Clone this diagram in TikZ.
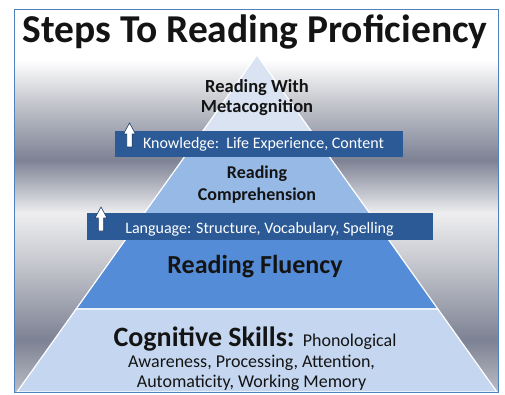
\documentclass[tikz,border=0pt]{standalone}
\usepackage{fontspec}
\setmainfont{Carlito}
\usetikzlibrary{calc}
\definecolor{frameBlue}{RGB}{79,129,189}
\definecolor{bandBlue}{RGB}{44,90,150}
\definecolor{arrowEdge}{RGB}{30,60,105}
\definecolor{tierTop}{RGB}{218,227,242}
\definecolor{tierComp}{RGB}{150,185,230}
\definecolor{tierFlu}{RGB}{85,140,215}
\definecolor{tierCog}{RGB}{197,215,240}
\definecolor{steelDark}{RGB}{125,130,148}
\definecolor{steelMid}{RGB}{200,202,208}
\definecolor{steelLight}{RGB}{238,238,240}
\definecolor{steelBot}{RGB}{185,188,196}
\definecolor{textDark}{RGB}{20,20,20}

\begin{document}
\begin{tikzpicture}[x=1pt,y=1pt,
  band/.style={fill=bandBlue,draw=none,inner sep=0pt},
  label/.style={anchor=base,text=textDark,inner sep=0pt,font=\bfseries},
  bandtext/.style={anchor=base,text=white,inner sep=0pt}]

\useasboundingbox (0,0) rectangle (505,394);
\fill[white] (0,0) rectangle (505,394);

% Metallic backdrop
\foreach \ya/\ca/\yb/\cb in {384/white/334/white, 334/white/294/steelMid,
    294/steelMid/234/steelDark, 234/steelDark/181/steelLight,
    181/steelLight/134/steelMid, 134/steelMid/54/steelDark, 54/steelDark/2/steelBot}
  \shade[top color=\ca,bottom color=\cb] (14,\ya) rectangle (498,\yb);

% Pyramid tiers
\coordinate (apex) at (257,339);
\coordinate (bl) at (17,2);
\coordinate (br) at (497,2);
\foreach \ta/\tb/\col in {0/0.2819/tierTop, 0.2819/0.5134/tierComp,
    0.5134/0.7537/tierFlu, 0.7537/1/tierCog}
  \filldraw[fill=\col,draw=white,line width=1.2pt,line join=round]
    ($(apex)!\ta!(bl)$) -- ($(apex)!\tb!(bl)$) -- ($(apex)!\tb!(br)$) -- ($(apex)!\ta!(br)$) -- cycle;

% Bands across the pyramid
\node[band,minimum width=288pt,minimum height=26pt] (knowband) at (259,250) {};
\node[band,minimum width=346pt,minimum height=27pt] (langband) at (260,167.5) {};

% Up arrows
\foreach \cx/\tip in {129.5/271, 101/187}
  \filldraw[fill=white,draw=arrowEdge,line width=0.6pt]
    (\cx,\tip) -- ++(-6,-11) -- ++(3.3,0) -- ++(0,-13) -- ++(5.4,0) -- ++(0,13) -- ++(3.3,0) -- cycle;

% Texts
\node[label,font=\fontsize{39.5}{42}\selectfont\bfseries] (title) at (255,351) {Steps To Reading Proficiency};
\node[label,font=\fontsize{18.5}{21}\selectfont\bfseries] (meta1) at (257,301) {Reading With};
\node[label,font=\fontsize{18.5}{21}\selectfont\bfseries] (meta2) at (257,281) {Metacognition};
\node[bandtext,font=\fontsize{16}{18}\selectfont] (knowtext) at (263.5,245) {Knowledge:\ \ Life Experience, Content};
\node[label,font=\fontsize{18}{20}\selectfont\bfseries] (comp1) at (257,216) {Reading};
\node[label,font=\fontsize{18}{20}\selectfont\bfseries] (comp2) at (257,194) {Comprehension};
\node[bandtext,font=\fontsize{16}{18}\selectfont] (langtext) at (259.5,161) {Language: Structure, Vocabulary, Spelling};
\node[label,font=\fontsize{26}{28}\selectfont\bfseries] (fluency) at (255,121) {Reading Fluency};
\node[label,font=\fontsize{18}{20}\selectfont\mdseries] (cog1) at (255,48) {{\fontsize{28}{30}\selectfont\bfseries Cognitive Skills:}\ \ Phonological};
\node[label,font=\fontsize{18}{20}\selectfont\mdseries] (cog2) at (251.5,27) {Awareness, Processing, Attention,};
\node[label,font=\fontsize{18}{20}\selectfont\mdseries] (cog3) at (251.5,7) {Automaticity, Working Memory};

% Frame
\draw[frameBlue,line width=1pt] (14,2) rectangle (498,384);

\end{tikzpicture}
\end{document}
